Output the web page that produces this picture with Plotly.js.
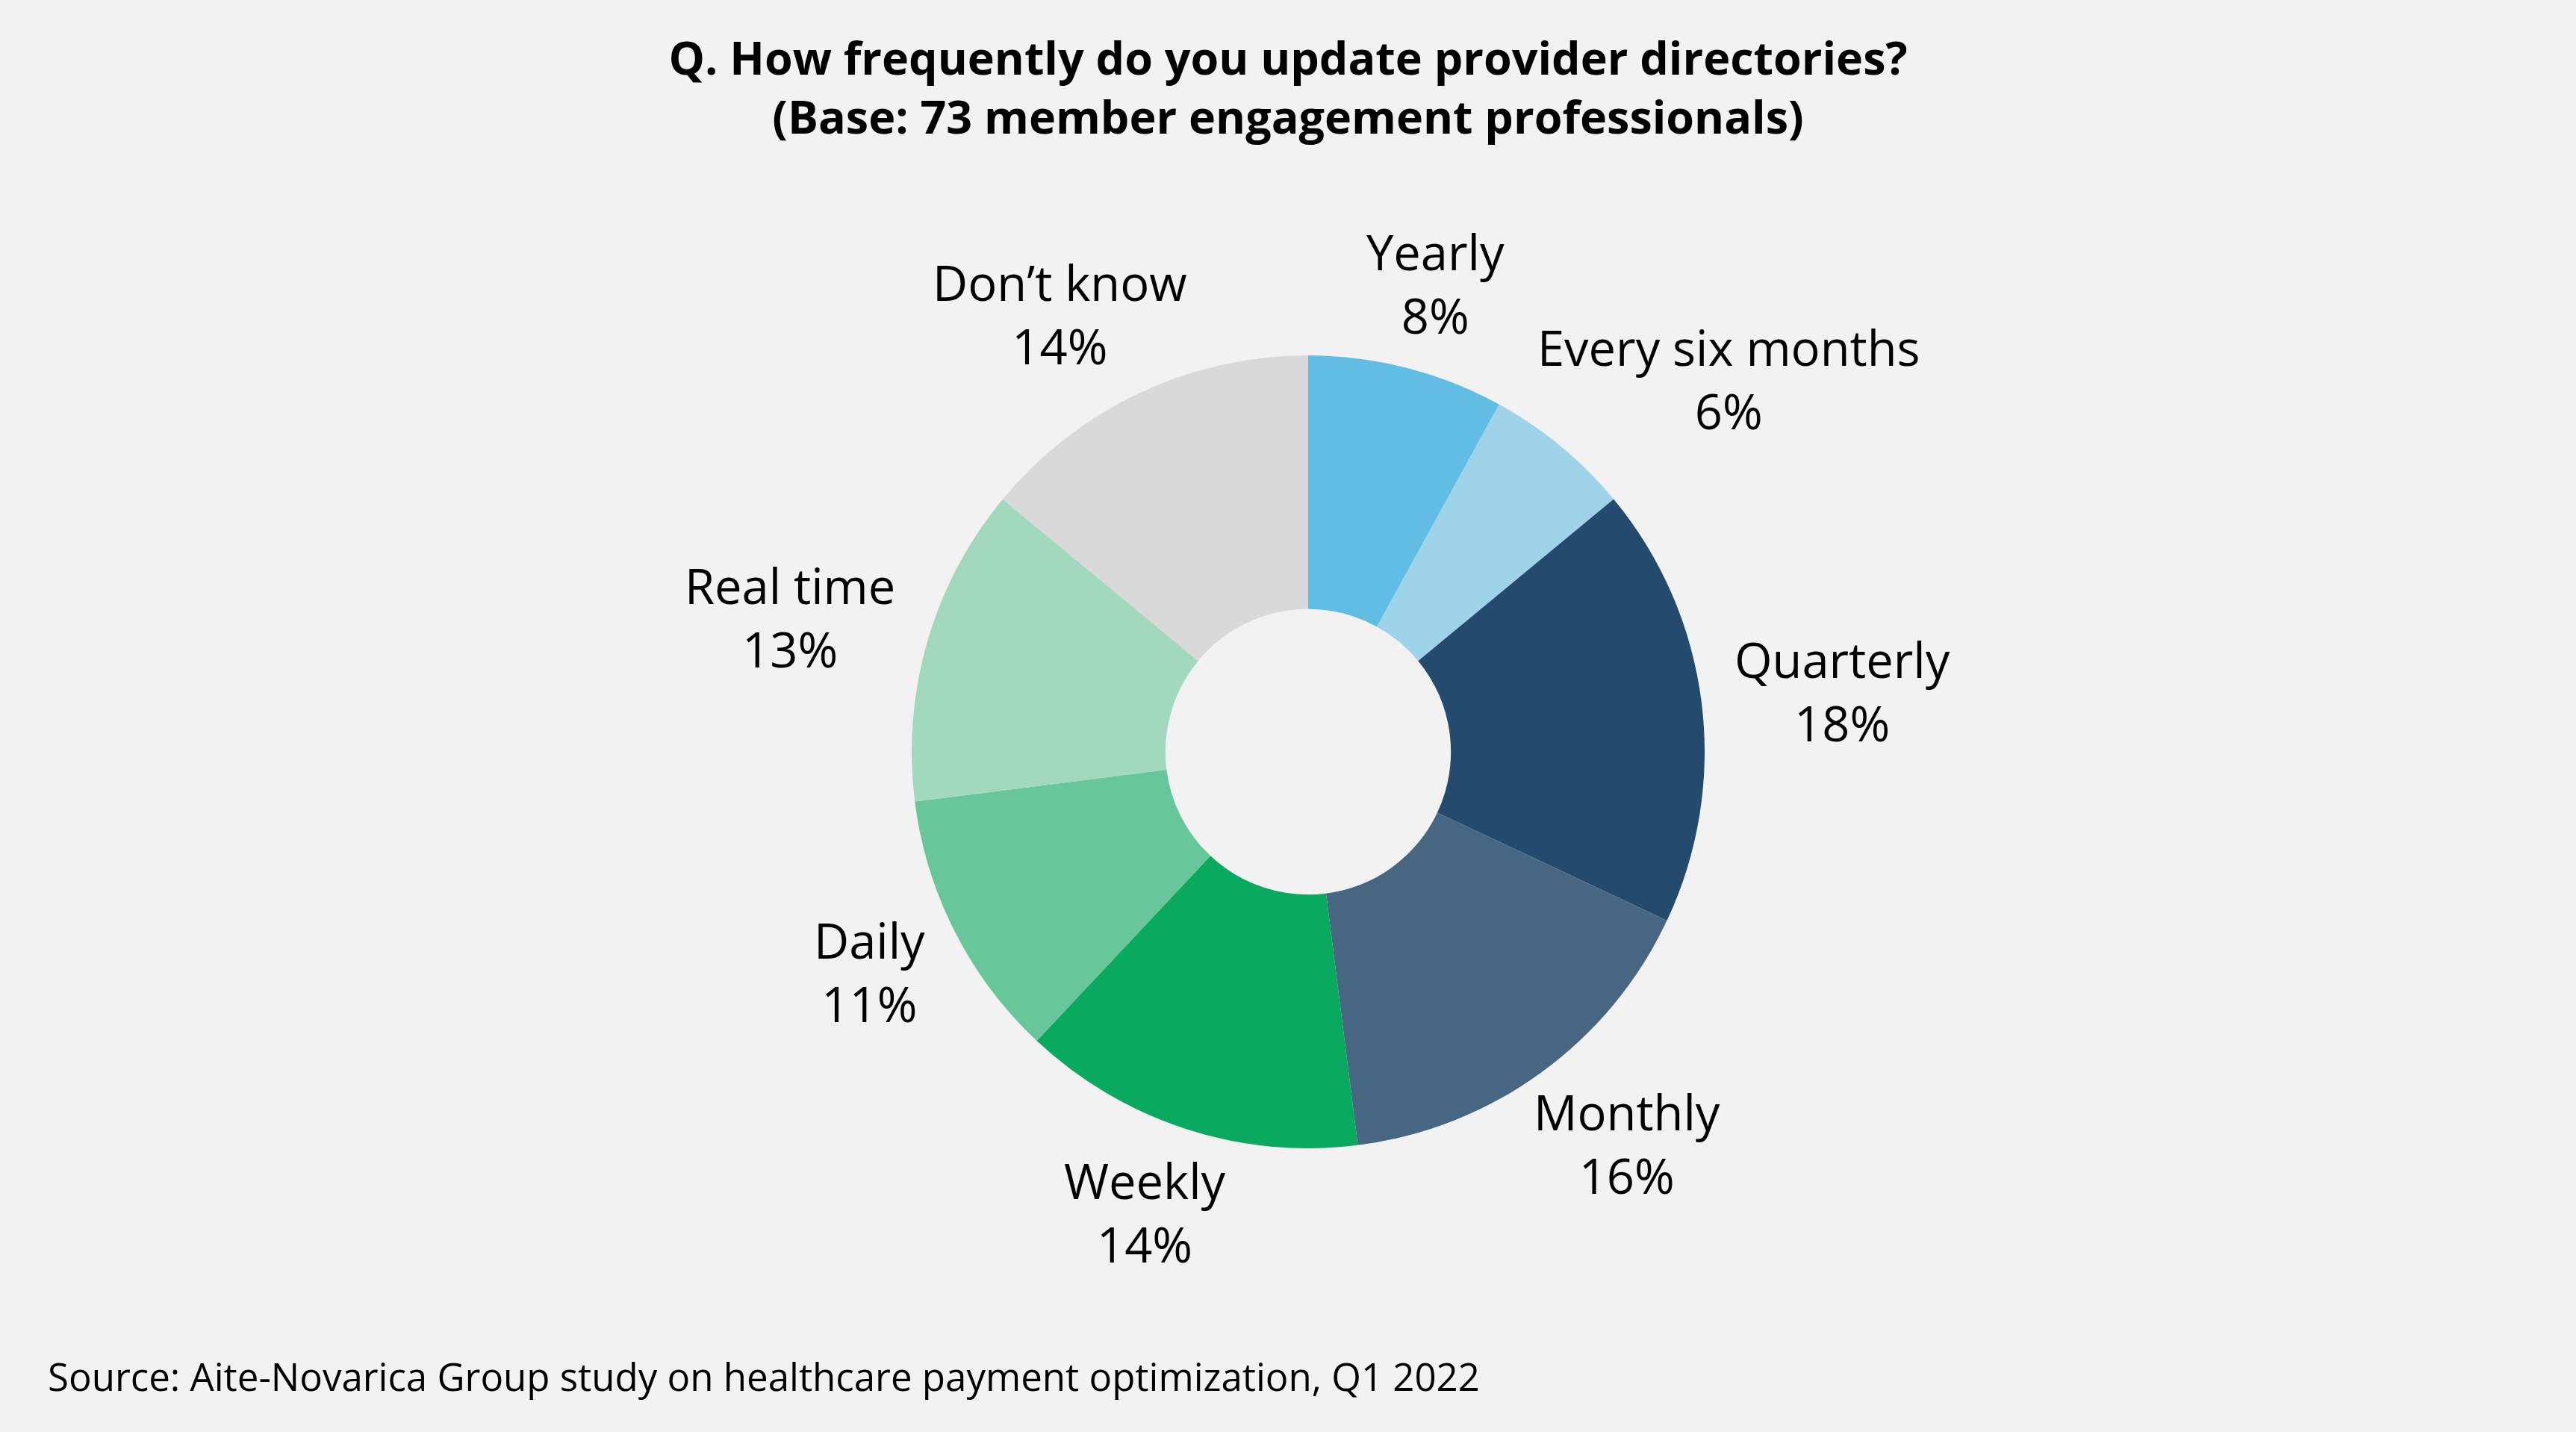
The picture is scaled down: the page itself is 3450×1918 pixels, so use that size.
<!DOCTYPE html>
<html><head><meta charset="utf-8">
<script src="https://cdn.plot.ly/plotly-3.0.1.min.js"></script>
<style>html,body{margin:0;padding:0;background:#F2F2F2;overflow:hidden;}</style>
</head><body><div id="chart" style="width:3450px;height:1918px;"></div>
<script>
// ---- data ----
const categories = ["Yearly", "Every six months", "Quarterly", "Monthly", "Weekly", "Daily", "Real time", "Don’t know"];
const percentages = [8, 6, 18, 16, 14, 11, 13, 14];
const sliceColors = ["#61BDE3", "#9ED3E9", "#244A6E", "#476682", "#0AA960", "#67C79A", "#A2D9BE", "#D9D9D9"];
const titleLines = ["Q. How frequently do you update provider directories?", "(Base: 73 member engagement professionals)"];
const sourceNote = "Source: Aite-Novarica Group study on healthcare payment optimization, Q1 2022";

// ---- layout constants ----
const W = 3450, H = 1918;
const CX = 1752, CY = 1007, R = 531, HOLE = 0.36, GAP = 45;
const FONT = '"Open Sans", "Noto Sans", sans-serif';
const LABEL_SIZE = 65;
const BG = "#F2F2F2";

const domain = { x: [(CX - R) / W, (CX + R) / W], y: [1 - (CY + R) / H, 1 - (CY - R) / H] };

// text measuring for label offsets
const ctx = document.createElement("canvas").getContext("2d");
ctx.font = LABEL_SIZE + 'px "Open Sans"';
function textWidth(t) { return ctx.measureText(t).width; }

// label annotations placed from the data (mid-angle of each slice, clockwise from 12 o'clock)
const total = percentages.reduce((a, b) => a + b, 0);
let cum = 0;
const clamp = v => Math.max(-1, Math.min(1, v));
const labelAnns = categories.map((c, i) => {
  const mid = (cum + percentages[i] / 2) / total * 2 * Math.PI;
  cum += percentages[i];
  const s = Math.sin(mid), co = Math.cos(mid);
  const r = R + GAP;
  const px = CX + r * s, py = CY - r * co;
  const pctText = percentages[i] + "%";
  const halfW = Math.max(textWidth(c), textWidth(pctText)) / 2;
  const halfH = 1.3 * LABEL_SIZE;
  return {
    text: c + "<br>" + pctText,
    x: px / W, y: 1 - py / H, xref: "paper", yref: "paper", showarrow: false,
    xanchor: "center", yanchor: "middle",
    xshift: halfW * clamp(1.2 * s),
    yshift: halfH * 0.85 * co,
    align: "center",
    font: { family: FONT, size: LABEL_SIZE, color: "#000000" }
  };
});

const trace = {
  type: "pie",
  labels: categories,
  values: percentages,
  marker: { colors: sliceColors, line: { width: 0 } },
  hole: HOLE,
  sort: false,
  direction: "clockwise",
  rotation: 0,
  textinfo: "none",
  hoverinfo: "label+percent",
  showlegend: false,
  domain: domain
};

const layout = {
  width: W, height: H,
  margin: { l: 0, r: 0, t: 0, b: 0 },
  paper_bgcolor: BG, plot_bgcolor: BG,
  showlegend: false,
  title: {
    text: "<b>" + titleLines[0] + "</b><br><b>" + titleLines[1] + "</b>",
    font: { family: FONT, size: 61, color: "#000000" },
    x: 0.5, xanchor: "center",
    y: 1 - 100 / H, yref: "container", yanchor: "top"
  },
  annotations: labelAnns.concat([{
    text: sourceNote, x: 62 / W, y: 1 - 1843 / H, xref: "paper", yref: "paper",
    xanchor: "left", yanchor: "middle", showarrow: false,
    font: { family: FONT, size: 51, color: "#000000" }
  }])
};

Plotly.newPlot("chart", [trace], layout, { displayModeBar: false, staticPlot: true });
</script>
</body></html>
